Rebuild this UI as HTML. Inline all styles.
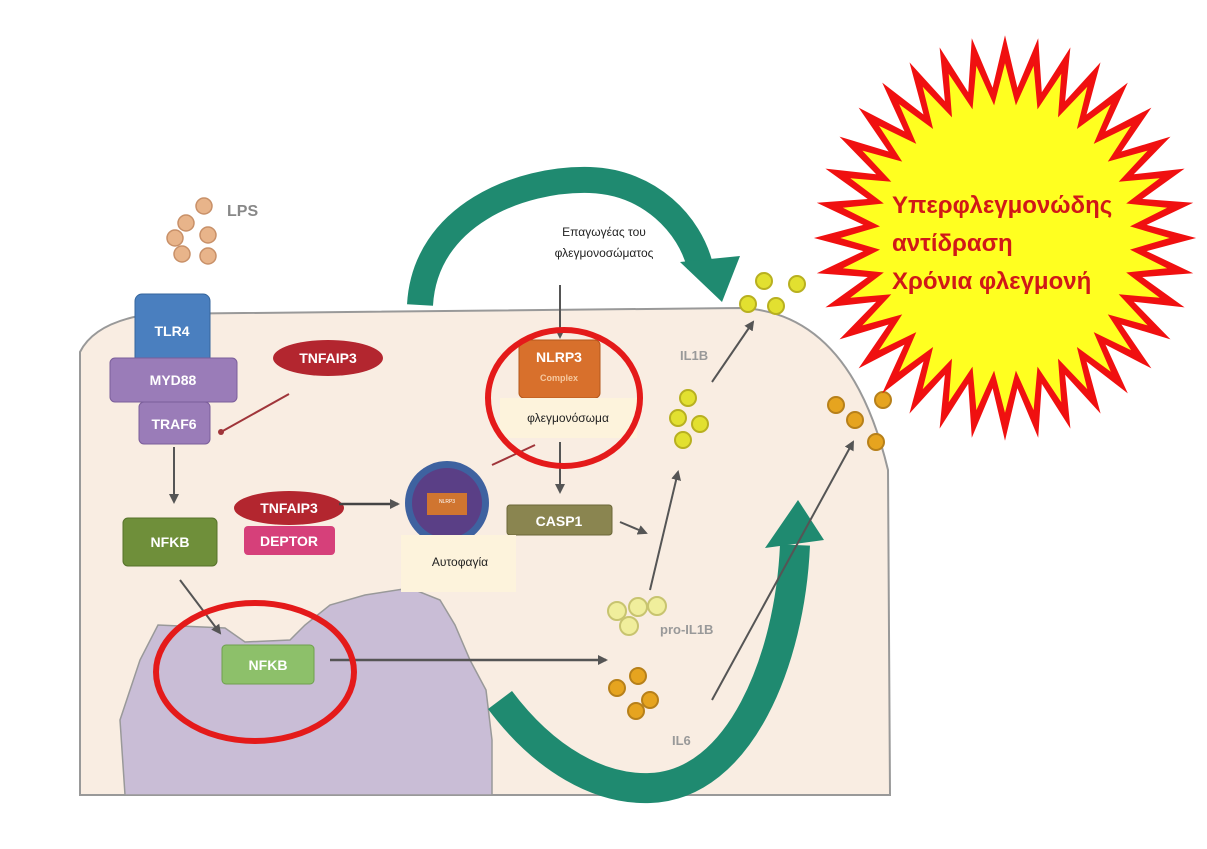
<!DOCTYPE html>
<html><head><meta charset="utf-8"><style>
html,body{margin:0;padding:0;background:#fff;}
svg{display:block;font-family:"Liberation Sans","DejaVu Sans",sans-serif;}
.b{font-weight:bold;fill:#fff;font-size:14px;text-anchor:middle;}
</style></head><body>
<svg width="1207" height="849" viewBox="0 0 1207 849" xmlns="http://www.w3.org/2000/svg">
<defs>
<marker id="ar" markerUnits="userSpaceOnUse" markerWidth="10" markerHeight="10" refX="8" refY="5" orient="auto"><path d="M0,0 L10,5 L0,10 z" fill="#555"/></marker>
</defs>
<!-- cell -->
<path d="M80,352 Q95,322 150,314 L740,308 Q850,312 888,470 L890,795 L80,795 Z" fill="#f9ede2" stroke="#999" stroke-width="2"/>
<rect x="78" y="796" width="820" height="53" fill="#fff"/>
<!-- nucleus -->
<path d="M125,795 L120,720 L140,660 L158,625 L225,628 L245,642 L290,640 L305,625 L330,605 L365,595 L410,588 L440,600 L455,625 L470,660 L486,690 L492,740 L492,795 Z" fill="#c9bdd6" stroke="#999" stroke-width="1.5"/>
<!-- green arrows -->
<path d="M420,305 C425,215 520,178 590,180 C650,182 690,225 700,266" fill="none" stroke="#1f8a70" stroke-width="26"/>
<polygon points="680,262 740,256 722,302" fill="#1f8a70"/>
<path d="M500,700 C545,760 600,790 650,788 C740,785 790,660 795,545" fill="none" stroke="#1f8a70" stroke-width="30"/>
<polygon points="765,548 824,540 798,500" fill="#1f8a70"/>
<!-- LPS -->
<g fill="#e8b48a" stroke="#c89068" stroke-width="1.5">
<circle cx="204" cy="206" r="8"/><circle cx="186" cy="223" r="8"/><circle cx="175" cy="238" r="8"/><circle cx="182" cy="254" r="8"/><circle cx="208" cy="235" r="8"/><circle cx="208" cy="256" r="8"/>
</g>
<text x="227" y="216" font-size="16" font-weight="bold" fill="#888">LPS</text>
<!-- receptors -->
<rect x="135" y="294" width="75" height="72" rx="7" fill="#4a7fbf" stroke="#35659c"/>
<text class="b" x="172" y="336">TLR4</text>
<rect x="110" y="358" width="127" height="44" rx="5" fill="#9a7cb8" stroke="#7b5e9a"/>
<text class="b" x="173" y="385">MYD88</text>
<rect x="139" y="402" width="71" height="42" rx="5" fill="#9a7cb8" stroke="#7b5e9a"/>
<text class="b" x="174" y="429">TRAF6</text>
<ellipse cx="328" cy="358" rx="55" ry="18" fill="#b3262f"/>
<text class="b" x="328" y="363">TNFAIP3</text>
<line x1="289" y1="394" x2="221" y2="432" stroke="#a0353a" stroke-width="2"/>
<circle cx="221" cy="432" r="3" fill="#a0353a"/>
<line x1="174" y1="447" x2="174" y2="502" stroke="#555" stroke-width="2" marker-end="url(#ar)"/>
<rect x="123" y="518" width="94" height="48" rx="5" fill="#6f8f3a" stroke="#56722a"/>
<text class="b" x="170" y="547">NFKB</text>
<ellipse cx="289" cy="508" rx="55" ry="17" fill="#b3262f"/>
<text class="b" x="289" y="513">TNFAIP3</text>
<rect x="244" y="526" width="91" height="29" rx="4" fill="#d6407a"/>
<text class="b" x="289" y="546">DEPTOR</text>
<line x1="339" y1="504" x2="398" y2="504" stroke="#444" stroke-width="2.5" marker-end="url(#ar)"/>
<circle cx="447" cy="503" r="42" fill="#3e62a0"/>
<circle cx="447" cy="503" r="35" fill="#5a3f86"/>
<rect x="427" y="493" width="40" height="22" fill="#d07530"/>
<text x="447" y="503" font-size="5" fill="#fff" text-anchor="middle">NLRP3</text>
<line x1="492" y1="465" x2="535" y2="445" stroke="#a0353a" stroke-width="2"/>
<!-- inducer -->
<text x="604" y="236" font-size="12" text-anchor="middle" fill="#222">Επαγωγέας του</text>
<text x="604" y="257" font-size="12" text-anchor="middle" fill="#222">φλεγμονοσώματος</text>
<line x1="560" y1="285" x2="560" y2="337" stroke="#555" stroke-width="2" marker-end="url(#ar)"/>
<rect x="519" y="340" width="81" height="58" rx="5" fill="#d8702c" stroke="#b3581c"/>
<text class="b" x="559" y="362" font-size="13">NLRP3</text>
<text x="559" y="381" font-size="9" font-weight="bold" fill="#f5c9a0" text-anchor="middle">Complex</text>
<rect x="500" y="398" width="137" height="40" fill="#fdf3dc"/>
<text x="568" y="422" font-size="12" text-anchor="middle" fill="#222">φλεγμονόσωμα</text>
<line x1="560" y1="442" x2="560" y2="492" stroke="#555" stroke-width="2" marker-end="url(#ar)"/>
<ellipse cx="564" cy="398" rx="76" ry="68" fill="none" stroke="#e41a1a" stroke-width="6"/>
<rect x="507" y="505" width="105" height="30" rx="3" fill="#8a8550" stroke="#6c6838"/>
<text class="b" x="559" y="526">CASP1</text>
<line x1="620" y1="522" x2="646" y2="533" stroke="#555" stroke-width="2" marker-end="url(#ar)"/>
<rect x="401" y="535" width="115" height="57" fill="#fdf3dc"/>
<text x="460" y="566" font-size="12" text-anchor="middle" fill="#222">Αυτοφαγία</text>
<!-- nucleus NFKB -->
<rect x="222" y="645" width="92" height="39" rx="4" fill="#8dc06a" stroke="#6ea04e"/>
<text class="b" x="268" y="670">NFKB</text>
<line x1="180" y1="580" x2="220" y2="633" stroke="#555" stroke-width="2" marker-end="url(#ar)"/>
<line x1="330" y1="660" x2="606" y2="660" stroke="#555" stroke-width="2.5" marker-end="url(#ar)"/>
<ellipse cx="255" cy="672" rx="99" ry="69" fill="none" stroke="#e41a1a" stroke-width="6"/>
<!-- particles -->
<g fill="#f0ee9c" stroke="#c8c470" stroke-width="2">
<circle cx="617" cy="611" r="9"/><circle cx="638" cy="607" r="9"/><circle cx="657" cy="606" r="9"/><circle cx="629" cy="626" r="9"/>
</g>
<text x="660" y="634" font-size="13" font-weight="bold" fill="#999">pro-IL1B</text>
<g fill="#e6a41f" stroke="#b7801a" stroke-width="2">
<circle cx="617" cy="688" r="8"/><circle cx="638" cy="676" r="8"/><circle cx="650" cy="700" r="8"/><circle cx="636" cy="711" r="8"/>
</g>
<text x="672" y="745" font-size="13" font-weight="bold" fill="#999">IL6</text>
<line x1="650" y1="590" x2="678" y2="472" stroke="#555" stroke-width="2" marker-end="url(#ar)"/>
<g fill="#e2e030" stroke="#b8b020" stroke-width="2">
<circle cx="688" cy="398" r="8"/><circle cx="678" cy="418" r="8"/><circle cx="700" cy="424" r="8"/><circle cx="683" cy="440" r="8"/>
<circle cx="764" cy="281" r="8"/><circle cx="797" cy="284" r="8"/><circle cx="748" cy="304" r="8"/><circle cx="776" cy="306" r="8"/>
</g>
<text x="680" y="360" font-size="13" font-weight="bold" fill="#999">IL1B</text>
<line x1="712" y1="382" x2="753" y2="322" stroke="#555" stroke-width="2" marker-end="url(#ar)"/>
<g fill="#e6a41f" stroke="#b7801a" stroke-width="2">
<circle cx="836" cy="405" r="8"/><circle cx="855" cy="420" r="8"/><circle cx="883" cy="400" r="8"/><circle cx="876" cy="442" r="8"/>
</g>
<line x1="712" y1="700" x2="853" y2="442" stroke="#555" stroke-width="2" marker-end="url(#ar)"/>
<!-- starburst -->
<polygon id="star" fill="#f01010" points=""/>
<polygon id="star2" fill="#ffff20" points=""/>
<text x="892" y="213" font-size="24" font-weight="bold" fill="#d01818">Υπερφλεγμονώδης</text>
<text x="892" y="251" font-size="24" font-weight="bold" fill="#d01818">αντίδραση</text>
<text x="892" y="289" font-size="24" font-weight="bold" fill="#d01818">Χρόνια φλεγμονή</text>
</svg>
<script>
function st(id,cx,cy,ro,ri,n,sx,sy){var p=[];for(var i=0;i<2*n;i++){var a=Math.PI*i/n-Math.PI/2;var r=i%2?ri:ro;p.push((cx+Math.cos(a)*r*sx).toFixed(1)+","+(cy+Math.sin(a)*r*sy).toFixed(1));}document.getElementById(id).setAttribute("points",p.join(" "));}
st("star",1005,238,195,145,36,0.98,1.04);
st("star2",1005,238,168,128,36,0.98,1.04);
</script>
</body></html>
